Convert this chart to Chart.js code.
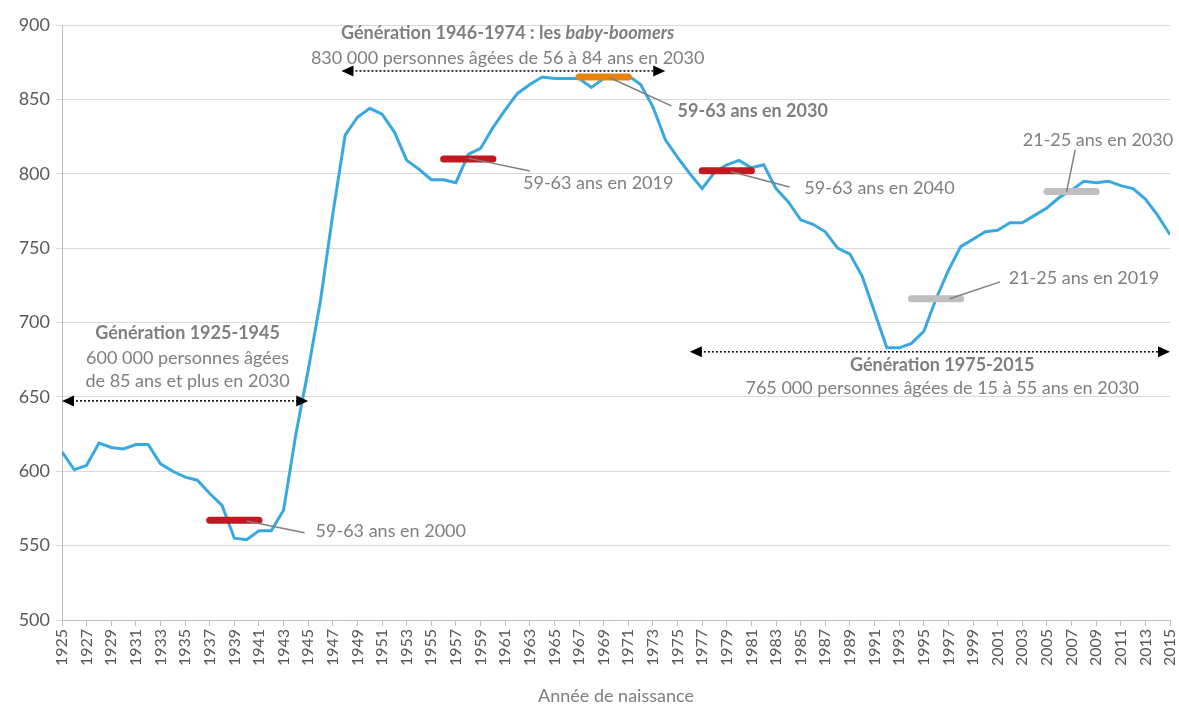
<!DOCTYPE html>
<html lang="fr">
<head>
<meta charset="utf-8">
<script src="https://cdn.jsdelivr.net/npm/chart.js@4.4.1/dist/chart.umd.min.js"></script>
<style>
  html, body { margin: 0; padding: 0; background: #ffffff; }
  #wrap { width: 1179px; height: 707px; position: relative; }
</style>
</head>
<body>
<div id="wrap"><canvas id="births"></canvas></div>
<script>
// ---- données (milliers de naissances par année) ----
const years = [
  1925, 1926, 1927, 1928, 1929, 1930, 1931, 1932, 1933, 1934,
  1935, 1936, 1937, 1938, 1939, 1940, 1941, 1942, 1943, 1944,
  1945, 1946, 1947, 1948, 1949, 1950, 1951, 1952, 1953, 1954,
  1955, 1956, 1957, 1958, 1959, 1960, 1961, 1962, 1963, 1964,
  1965, 1966, 1967, 1968, 1969, 1970, 1971, 1972, 1973, 1974,
  1975, 1976, 1977, 1978, 1979, 1980, 1981, 1982, 1983, 1984,
  1985, 1986, 1987, 1988, 1989, 1990, 1991, 1992, 1993, 1994,
  1995, 1996, 1997, 1998, 1999, 2000, 2001, 2002, 2003, 2004,
  2005, 2006, 2007, 2008, 2009, 2010, 2011, 2012, 2013, 2014,
  2015
];
const births = [
  613, 601, 604, 619, 616, 615, 618, 618, 605, 600,
  596, 594, 585, 577, 555, 554, 560, 560, 574, 625,
  668, 715, 773, 826, 838, 844, 840, 828, 809, 803,
  796, 796, 794, 813, 817, 831, 843, 854, 860, 865,
  864, 864, 864, 858, 864, 866, 866, 860, 845, 823,
  811, 800, 790, 801, 806, 809, 804, 806, 790, 781,
  769, 766, 761, 750, 746, 731, 707, 683, 683, 686,
  694, 716, 735, 751, 756, 761, 762, 767, 767, 772,
  777, 784, 789, 795, 794, 795, 792, 790, 783, 772,
  759
];
const yTicks = [500, 550, 600, 650, 700, 750, 800, 850, 900];

// tranches d'âge repérées sur la courbe
const markYears  = [[1937, 1941], [1956, 1960], [1967, 1971], [1977, 1981], [1994, 1998], [2005, 2009]];
const markValues = [567, 810, 865, 802, 716, 788];
const markLabels = ['59-63 ans en 2000', '59-63 ans en 2019', '59-63 ans en 2030',
                    '59-63 ans en 2040', '21-25 ans en 2019', '21-25 ans en 2030'];

// générations (flèches)
const genYears  = [[1925, 1945], [1947.7, 1974], [1976, 2015]];
const genTitles = ['Génération 1925-1945', 'Génération 1946-1974 : les ', 'Génération 1975-2015'];
const genTexts  = [
  ['600 000 personnes âgées', 'de 85 ans et plus en 2030'],
  ['830 000 personnes âgées de 56 à 84 ans en 2030'],
  ['765 000 personnes âgées de 15 à 55 ans en 2030']
];

// ---- mise en page des annotations (coordonnées dans le repère du graphique) ----
const markColors = ['#c0191f', '#c0191f', '#e8820f', '#c0191f', '#bfbfbf', '#bfbfbf'];
const leaderFrom = [[1940.0, 566.5], [1958.0, 810.5], [1969.5, 864.5], [1979.3, 801.5], [1997.1, 716], [2006.6, 788]];
const leaderTo   = [[1944.7, 558.6], [1963.0, 801.9], [1974.5, 845.6], [1984.1, 791.1], [2001.2, 727.3], [2007.3, 816]];
const labelAt    = [[1945.6, 560], [1962.45, 793.8], [1975.0, 842.2], [1985.3, 790.5], [2001.9, 730], [2009.15, 822.7]];
const labelAlign = ['left', 'left', 'left', 'left', 'left', 'center'];
const arrowValue = [647.3, 869.1, 680.3];
const genCenter  = [1935.2, 1961.2, 1996.5];
const genLineVal = [[693, 676.2, 660.8], [894.6, 877.8], [671.5, 656.1]];

const FONT = 'Lato, "Open Sans", sans-serif';
const FS = 18;
const GREY = '#7f7f7f';

function arrowHead(ctx, x, y, dir) {
  ctx.beginPath();
  ctx.moveTo(x, y);
  ctx.lineTo(x - dir * 12, y - 5.5);
  ctx.lineTo(x - dir * 12, y + 5.5);
  ctx.closePath();
  ctx.fill();
}

const annotations = {
  id: 'annotations',
  afterDatasetsDraw(chart) {
    const ctx = chart.ctx;
    const xs = chart.scales.x, ys = chart.scales.y;
    ctx.save();

    // traits de rappel + étiquettes des tranches
    markLabels.forEach((txt, i) => {
      ctx.strokeStyle = GREY;
      ctx.lineWidth = 1.5;
      ctx.beginPath();
      ctx.moveTo(xs.getPixelForValue(leaderFrom[i][0]), ys.getPixelForValue(leaderFrom[i][1]));
      ctx.lineTo(xs.getPixelForValue(leaderTo[i][0]), ys.getPixelForValue(leaderTo[i][1]));
      ctx.stroke();
      ctx.fillStyle = GREY;
      ctx.font = (i === 2 ? 'bold ' : '') + FS + 'px ' + FONT;
      ctx.textAlign = labelAlign[i];
      ctx.textBaseline = 'middle';
      ctx.fillText(txt, xs.getPixelForValue(labelAt[i][0]), ys.getPixelForValue(labelAt[i][1]));
    });

    // flèches pointillées des générations
    genYears.forEach((g, i) => {
      const x0 = xs.getPixelForValue(g[0]), x1 = xs.getPixelForValue(g[1]);
      const y = ys.getPixelForValue(arrowValue[i]);
      ctx.strokeStyle = '#000000';
      ctx.lineWidth = 1.5;
      ctx.setLineDash([2, 2]);
      ctx.beginPath();
      ctx.moveTo(x0 + 10, y);
      ctx.lineTo(x1 - 10, y);
      ctx.stroke();
      ctx.setLineDash([]);
      ctx.fillStyle = '#000000';
      arrowHead(ctx, x0, y, -1);
      arrowHead(ctx, x1, y, 1);
    });

    // textes des générations
    ctx.textBaseline = 'middle';
    genTitles.forEach((title, i) => {
      const cx = xs.getPixelForValue(genCenter[i]);
      const rows = genLineVal[i];
      ctx.fillStyle = GREY;
      if (i === 1) {
        ctx.font = 'bold ' + FS + 'px ' + FONT;
        const w1 = ctx.measureText(title).width;
        ctx.font = 'italic bold ' + FS + 'px ' + FONT;
        const w2 = ctx.measureText('baby-boomers').width;
        const left = cx - (w1 + w2) / 2;
        ctx.textAlign = 'left';
        ctx.font = 'bold ' + FS + 'px ' + FONT;
        ctx.fillText(title, left, ys.getPixelForValue(rows[0]));
        ctx.font = 'italic bold ' + FS + 'px ' + FONT;
        ctx.fillText('baby-boomers', left + w1, ys.getPixelForValue(rows[0]));
      } else {
        ctx.textAlign = 'center';
        ctx.font = 'bold ' + FS + 'px ' + FONT;
        ctx.fillText(title, cx, ys.getPixelForValue(rows[0]));
      }
      ctx.textAlign = 'center';
      ctx.font = FS + 'px ' + FONT;
      genTexts[i].forEach((t, k) => {
        ctx.fillText(t, cx, ys.getPixelForValue(rows[k + 1]));
      });
    });
    ctx.restore();
  }
};

const markSets = markYears.map((m, i) => ({
  data: [{ x: m[0], y: markValues[i] }, { x: m[1], y: markValues[i] }],
  borderColor: markColors[i],
  borderWidth: 7,
  borderCapStyle: 'round',
  pointRadius: 0,
  order: 1
}));

new Chart(document.getElementById('births'), {
  type: 'line',
  data: {
    datasets: [{
      data: years.map((y, i) => ({ x: y, y: births[i] })),
      borderColor: '#3aa8e0',
      borderWidth: 3,
      pointRadius: 0,
      tension: 0,
      order: 2
    }, ...markSets]
  },
  options: {
    responsive: true,
    maintainAspectRatio: false,
    animation: false,
    layout: { padding: { top: 25, right: 9, left: 0, bottom: 0 } },
    plugins: { legend: { display: false }, tooltip: { enabled: false } },
    scales: {
      x: {
        type: 'linear',
        min: 1925,
        max: 2015,
        afterBuildTicks: (scale) => {
          scale.ticks = years.filter((y, i) => i % 2 === 0).map(v => ({ value: v }));
        },
        afterFit: (scale) => {
          scale.height = 87;
          scale.paddingLeft = 0;
          scale.paddingRight = 0;
        },
        ticks: {
          autoSkip: false,
          minRotation: 90,
          maxRotation: 90,
          color: '#595959',
          font: { family: FONT, size: 16 },
          padding: 3,
          callback: (v) => String(v)
        },
        grid: { drawOnChartArea: false, tickLength: 6, color: '#bfbfbf' },
        border: { color: '#bfbfbf' },
        title: {
          display: true,
          text: 'Année de naissance',
          color: '#7f7f7f',
          font: { family: FONT, size: 18 },
          padding: { top: 0, bottom: 0 }
        }
      },
      y: {
        min: 500,
        max: 900,
        afterBuildTicks: (scale) => { scale.ticks = yTicks.map(v => ({ value: v })); },
        afterFit: (scale) => { scale.width = 62; },
        ticks: { color: '#595959', font: { family: FONT, size: 18 }, padding: 6 },
        grid: { color: '#d9d9d9', tickLength: 6 },
        border: { color: '#bfbfbf' }
      }
    }
  },
  plugins: [annotations]
});
</script>
</body>
</html>
